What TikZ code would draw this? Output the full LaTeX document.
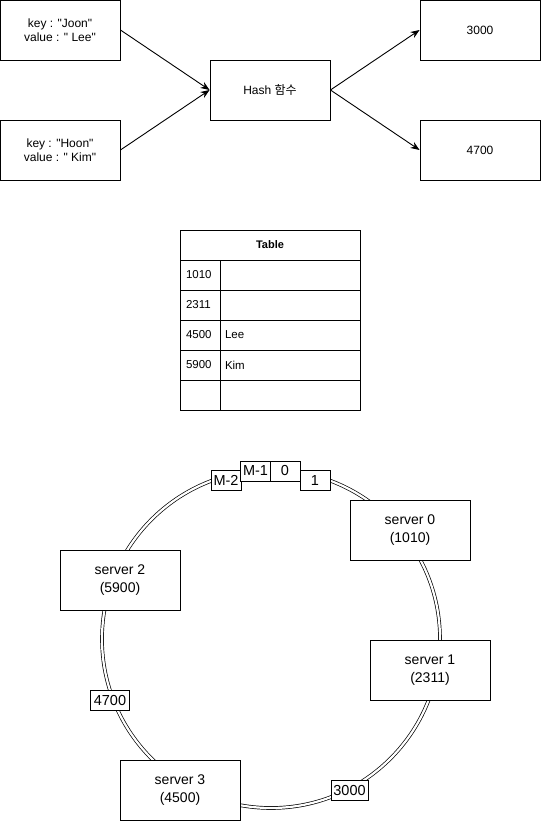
\documentclass[tikz,border=0pt]{standalone}
\usepackage{fontspec}
\setmainfont{Liberation Sans}[Ligatures=TeXOff]
\newfontfamily\krfont{Noto Sans CJK KR}
\usetikzlibrary{arrows.meta}
\begin{document}
\begin{tikzpicture}[x=1pt,y=-1pt,
  box/.style={draw, line width=0.9pt, fill=white, minimum width=120pt, minimum height=60pt, inner sep=0pt, align=center, font=\fontsize{12}{14}\selectfont},
  srv/.style={box, font=\fontsize{14}{18}\selectfont},
  arr/.style={line width=0.9pt, -{Stealth[length=9pt,width=7pt,inset=3pt]}},
  hdr/.style={draw, line width=0.9pt, minimum width=180pt, minimum height=30pt, inner sep=0pt, font=\bfseries\fontsize{11}{13}\selectfont},
  kcell/.style={draw, line width=0.9pt, minimum width=40pt, minimum height=30pt, inner sep=0pt, text width=28pt, align=left, font=\fontsize{11.5}{13}\selectfont},
  vcell/.style={draw, line width=0.9pt, minimum width=140pt, minimum height=30pt, inner sep=0pt, text width=130pt, align=left, font=\fontsize{11.5}{13}\selectfont},
  tag/.style={draw, line width=0.9pt, fill=white, inner sep=0pt, minimum height=20pt, font=\fontsize{14.5}{16}\selectfont},
  ring/.style={double, line width=0.7pt, double distance=2.2pt}
]
\useasboundingbox (0,0) rectangle (541,821);

% top hash diagram
\node[box] (joon) at (60,30) {key : "Joon"\\value : " Lee"};
\node[box] (hoon) at (60,150) {key : "Hoon"\\value : " Kim"};
\node[box] (hash) at (270,90) {Hash {\krfont 함수}};
\node[box] (r3000) at (480,30) {3000};
\node[box] (r4700) at (480,150) {4700};
\draw[arr] (joon.east) -- (hash.west);
\draw[arr] (hoon.east) -- (hash.west);
\draw[arr] (hash.east) -- (r3000.west);
\draw[arr] (hash.east) -- (r4700.west);

% table
\node[hdr] (thead) at (270,245) {Table};
\node[kcell] (k1) at (200,275) {1010};
\node[vcell] (v1) at (290,275) {};
\node[kcell] (k2) at (200,305) {2311};
\node[vcell] (v2) at (290,305) {};
\node[kcell] (k3) at (200,335) {4500};
\node[vcell] (v3) at (290,335) {Lee};
\node[kcell] (k4) at (200,365) {5900};
\node[vcell] (v4) at (290,365) {Kim};
\node[kcell] (k5) at (200,395) {};
\node[vcell] (v5) at (290,395) {};

% ring
\draw[ring] (271,639) circle[radius=169pt];

\node[srv] (s0) at (410,530) {server 0\\(1010)};
\node[srv] (s1) at (430,670) {server 1\\(2311)};
\node[srv] (s2) at (120,580) {server 2\\(5900)};
\node[srv] (s3) at (180,790) {server 3\\(4500)};

\node[tag, minimum width=30pt] (m2) at (226,480.5) {M-2};
\node[tag, minimum width=30pt] (m1) at (255.5,471) {M-1};
\node[tag, minimum width=30pt] (z0) at (285,471) {0};
\node[tag, minimum width=30pt] (o1) at (315,480.5) {1};
\node[tag, minimum width=39pt] (t4700) at (110,700) {4700};
\node[tag, minimum width=37pt] (t3000) at (349.5,790.5) {3000};
\end{tikzpicture}
\end{document}
